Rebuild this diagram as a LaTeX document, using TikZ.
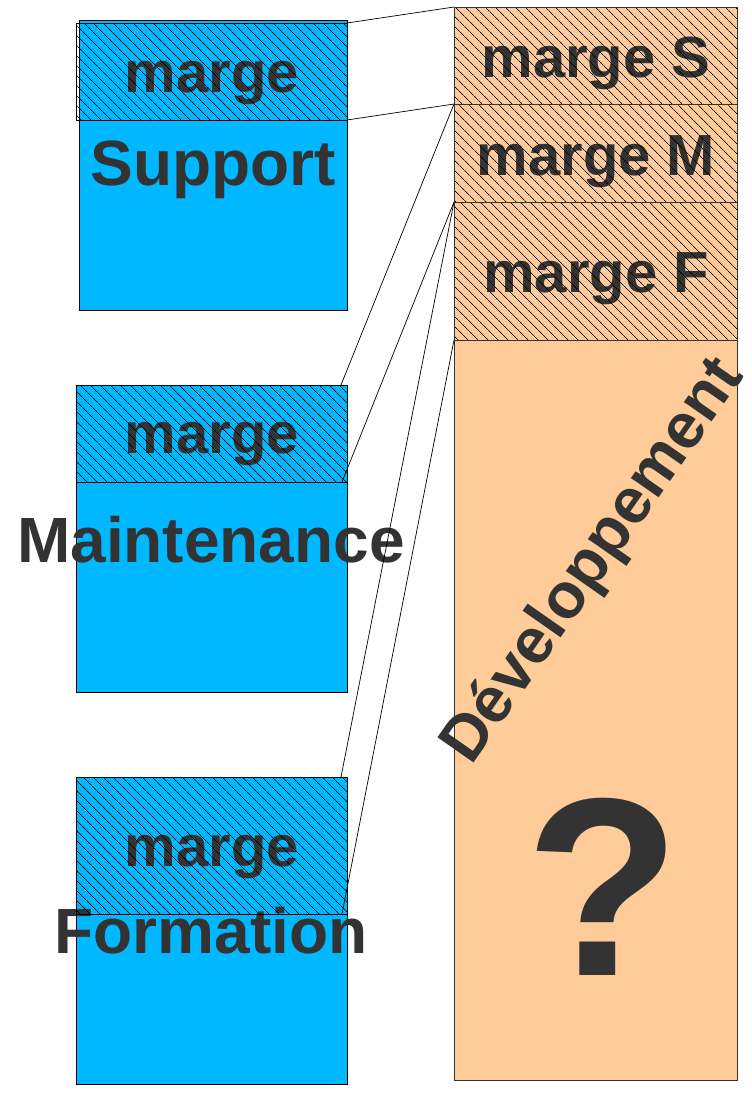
\documentclass[tikz,border=0pt]{standalone}
\usepackage{fontspec}
\setmainfont{Liberation Sans}
\usepackage{tikz}
\usetikzlibrary{patterns.meta, positioning}
\definecolor{boxblue}{HTML}{00B8FF}
\definecolor{boxorange}{HTML}{FFCC99}
\definecolor{txtgray}{HTML}{333333}

\begin{document}
\begin{tikzpicture}[x=1pt, y=-1pt,
    bluebox/.style={draw=black, fill=boxblue, line width=0.8pt, inner sep=0, outer sep=0, anchor=north west},
    orangebox/.style={draw=black!80, fill=boxorange, line width=0.8pt, inner sep=0, outer sep=0, anchor=north west},
    hatchbox/.style={draw=black, line width=0.8pt, inner sep=0, outer sep=0, anchor=north west,
        pattern={Lines[angle=-45, distance=7.4pt, line width=0.8pt]}, pattern color=black},
    lbl/.style={text=txtgray, inner sep=0, anchor=base, font=\bfseries\fontsize{64}{64}\selectfont},
    mlbl/.style={lbl, font=\bfseries\fontsize{58}{58}\selectfont},
    link/.style={black, line width=0.7pt}]
    \useasboundingbox (0,0) rectangle (752,1095);
    % left boxes
    \node[bluebox, minimum width=268pt, minimum height=290pt] (supbox) at (79,20) {};
    \node[bluebox, minimum width=271pt, minimum height=307pt] (mainbox) at (76,385) {};
    \node[bluebox, minimum width=271pt, minimum height=307pt] (formbox) at (76,777) {};
    % right column
    \node[orangebox, minimum width=283pt, minimum height=1073pt] (devbox) at (454,7) {};
    % texts
    \node[mlbl] (suptxtm) at (212,92) {marge};
    \node[lbl] (suptxt) at (213,185) {Support};
    \node[mlbl] (maintxtm) at (212,453) {marge};
    \node[lbl] (maintxt) at (211,562) {Maintenance};
    \node[mlbl] (formtxtm) at (212,866) {marge};
    \node[lbl] (formtxt) at (211,953) {Formation};
    \node[mlbl] (mstxt) at (596,77) {marge S};
    \node[mlbl] (mmtxt) at (596,175) {marge M};
    \node[mlbl] (mftxt) at (596,292) {marge F};
    \node[lbl, anchor=center, rotate=55] (devtxt) at (594,562) {Développement};
    \node[lbl, font=\bfseries\fontsize{254}{254}\selectfont] (qtxt) at (603,975) {?};
    % hatched margins
    \node[hatchbox, minimum width=271pt, minimum height=97pt] (supm) at (76,23) {};
    \node[hatchbox, minimum width=271pt, minimum height=97pt] (mainm) at (76,385) {};
    \node[hatchbox, minimum width=271pt, minimum height=137pt] (formm) at (76,777) {};
    \node[hatchbox, draw=black!80, minimum width=283pt, minimum height=97pt] (ms) at (454,7) {};
    \node[hatchbox, draw=black!80, minimum width=283pt, minimum height=98pt] (mm) at (454,104) {};
    \node[hatchbox, draw=black!80, minimum width=283pt, minimum height=138pt] (mf) at (454,202) {};
    % links
    \draw[link] (supm.north east) -- (ms.north west);
    \draw[link] (supm.south east) -- (ms.south west);
    \draw[link] (mm.north west) -- ([xshift=-6pt]mainm.north east);
    \draw[link] (mm.south west) -- ([xshift=-5pt]mainm.south east);
    \draw[link] (mf.north west) -- ([xshift=-6pt]formm.north east);
    \draw[link] (mf.south west) -- ([xshift=-5pt]formm.south east);
\end{tikzpicture}
\end{document}
